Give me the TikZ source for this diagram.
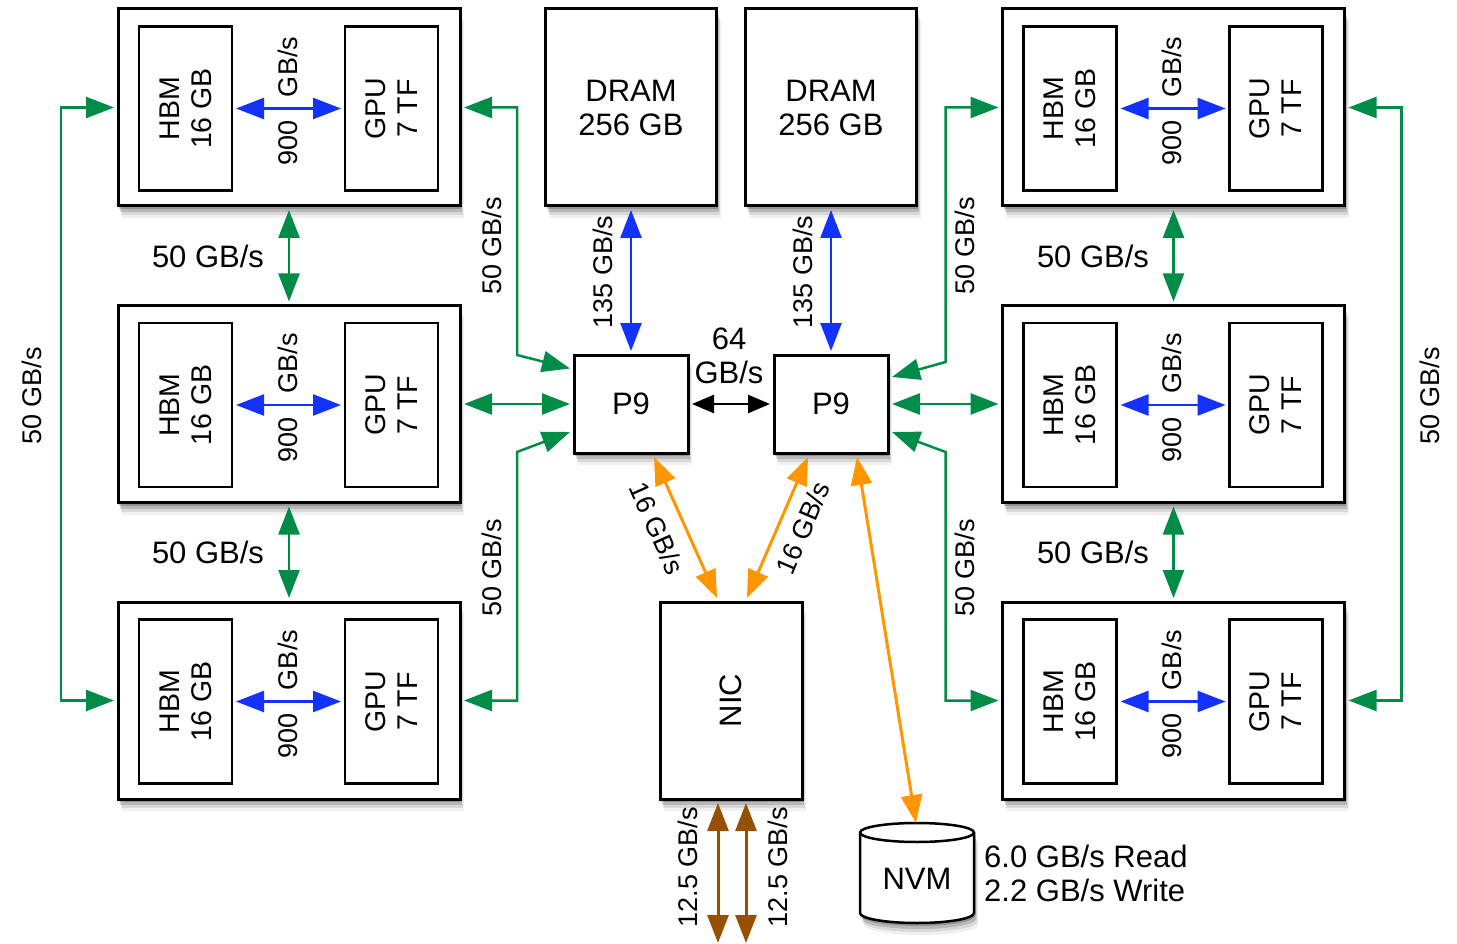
\documentclass[tikz,border=0pt]{standalone}
\usepackage{fontspec}
\setmainfont{Liberation Sans}
\usetikzlibrary{arrows.meta,shadows,calc}

\definecolor{linkgreen}{RGB}{0,140,70}
\definecolor{linkblue}{RGB}{20,50,255}
\definecolor{linkorange}{RGB}{255,150,0}
\definecolor{linkbrown}{RGB}{150,80,0}

\tikzset{
  boxshadow/.style={
    drop shadow={shadow xshift=1pt,shadow yshift=-3pt,opacity=.20,fill=black},
    drop shadow={shadow xshift=2pt,shadow yshift=-6pt,opacity=.15,fill=black},
    drop shadow={shadow xshift=3pt,shadow yshift=-9pt,opacity=.10,fill=black},
    drop shadow={shadow xshift=4pt,shadow yshift=-12pt,opacity=.06,fill=black}},
  outerbox/.style={draw,line width=3pt,fill=white,outer sep=4pt,boxshadow,align=center},
  gpubox/.style={outerbox,minimum width=342pt,minimum height=197pt},
  drambox/.style={outerbox,minimum width=171pt,minimum height=197pt},
  cpubox/.style={outerbox,minimum width=114pt,minimum height=98pt},
  innerbox/.style={draw,line width=2.5pt,fill=white,outer sep=4pt,rotate=90,
    align=center,minimum width=164pt,minimum height=93pt,
    font=\fontsize{28.5}{32}\selectfont},
  vlabel/.style={rotate=90,font=\fontsize{27}{30}\selectfont},
  link/.style={line width=2.5pt,>={Triangle[length=28pt,width=21pt]},<->},
  greenlink/.style={link,linkgreen},
  bluelink/.style={link,linkblue},
  orangelink/.style={link,linkorange,line width=3pt},
  brownlink/.style={link,linkbrown,line width=3pt},
  blacklink/.style={line width=2.5pt,>={Triangle[length=22pt,width=18pt]},<->}
}

\begin{document}
\begin{tikzpicture}[x=1pt,y=-1pt,inner sep=0pt,font=\fontsize{31}{34}\selectfont]
  \useasboundingbox (0,0) rectangle (1457,944);

  % GPU boards, left and right
  \foreach \n/\y in {1/107.5,2/404,3/700.5}{
    \node[gpubox] (L\n) at (289,\y) {};
    \node[innerbox] (L\n hbm) at (185.5,\y+1) {HBM\\16 GB};
    \node[innerbox] (L\n gpu) at (391.5,\y+1) {GPU\\7 TF};
    \draw[bluelink] (L\n hbm) -- (L\n gpu);
    \node[vlabel] (L\n up) at (288,\y-40.5) {GB/s};
    \node[vlabel] (L\n lo) at (288,\y+35.5) {900};

    \node[gpubox] (R\n) at (1173.5,\y) {};
    \node[innerbox] (R\n hbm) at (1070,\y+1) {HBM\\16 GB};
    \node[innerbox] (R\n gpu) at (1276,\y+1) {GPU\\7 TF};
    \draw[bluelink] (R\n hbm) -- (R\n gpu);
    \node[vlabel] (R\n up) at (1172,\y-40.5) {GB/s};
    \node[vlabel] (R\n lo) at (1172,\y+35.5) {900};
  }

  % memory and processors
  \node[drambox] (D1) at (631,107.5) {DRAM\\256 GB};
  \node[drambox] (D2) at (831,107.5) {DRAM\\256 GB};
  \node[cpubox] (P1) at (631,404) {P9};
  \node[cpubox] (P2) at (831,404) {P9};
  \node[outerbox,minimum width=142pt,minimum height=197pt] (NIC) at (731,700.5) {\rotatebox{90}{NIC}};

  % NVM drive
  \draw[line width=2.5pt,fill=white,boxshadow]
    (860,832.5) -- (860,913) arc[start angle=180,end angle=0,x radius=57,y radius=10]
    -- (974,832.5) arc[start angle=0,end angle=-180,x radius=57,y radius=9.5] -- cycle;
  \draw[line width=2.5pt] (860,832.5) arc[start angle=180,end angle=0,x radius=57,y radius=9.5];
  \node (NVM) at (917,879) {NVM};
  \coordinate (nvmtop) at (916,823);
  \node[anchor=west,align=left] (rates) at (984,873) {6.0 GB/s Read\\2.2 GB/s Write};

  % NVLink between boards
  \draw[greenlink] (L1) -- (L2);
  \draw[greenlink] (L2) -- (L3);
  \draw[greenlink] (R1) -- (R2);
  \draw[greenlink] (R2) -- (R3);
  \draw[greenlink] (L1.west) -- ++(-53,0) |- (L3.west);
  \draw[greenlink] (R1.east) -- ++(53,0) |- (R3.east);
  \node (g1) at (208,256) {50 GB/s};
  \node (g2) at (208,552) {50 GB/s};
  \node (g3) at (1093,256) {50 GB/s};
  \node (g4) at (1093,552) {50 GB/s};
  \node[vlabel] (g5) at (32,396) {50 GB/s};
  \node[vlabel] (g6) at (1430,396) {50 GB/s};

  % NVLink to the P9s
  \draw[greenlink] (L1.east) -- ++(53,0) -- ++(0,247.5) -- ($(P1.west)+(0,-35.5)$);
  \draw[greenlink] (L2.east) -- (P1.west);
  \draw[greenlink] (L3.east) -- ++(53,0) -- ++(0,-248.5) -- ($(P1.west)+(0,28)$);
  \draw[greenlink] (R1.west) -- ++(-53,0) -- ++(0,254.5) -- ($(P2.east)+(0,-27)$);
  \draw[greenlink] (R2.west) -- (P2.east);
  \draw[greenlink] (R3.west) -- ++(-53,0) -- ++(0,-248.5) -- ($(P2.east)+(0,28)$);
  \node[vlabel] (g7) at (492,246) {50 GB/s};
  \node[vlabel] (g8) at (492,568) {50 GB/s};
  \node[vlabel] (g9) at (965,246) {50 GB/s};
  \node[vlabel] (g10) at (965,568) {50 GB/s};

  % DRAM and X-bus
  \draw[bluelink] (D1) -- (P1);
  \draw[bluelink] (D2) -- (P2);
  \node[vlabel] (b1) at (603,272) {135 GB/s};
  \node[vlabel] (b2) at (803,272) {135 GB/s};
  \draw[blacklink] (P1.east) -- (P2.west);
  \node[align=center] (xbus) at (729,356) {64\\GB/s};

  % PCIe
  \draw[orangelink] ($(P1.south)+(23,0)$) -- ($(NIC.north)+(-14,0)$);
  \draw[orangelink] ($(P2.south)+(-23,0)$) -- ($(NIC.north)+(16,0)$);
  \draw[orangelink] ($(P2.south)+(26,0)$) -- (nvmtop);
  \node[rotate=-66,font=\fontsize{27}{30}\selectfont] (o1) at (657,528) {16 GB/s};
  \node[rotate=67,font=\fontsize{27}{30}\selectfont] (o2) at (803,528) {16 GB/s};

  % network ports
  \coordinate (e1) at (718,943);
  \coordinate (e2) at (746,943);
  \draw[brownlink] ($(NIC.south)+(-13,0)$) -- (e1);
  \draw[brownlink] ($(NIC.south)+(15,0)$) -- (e2);
  \node[vlabel] (n1) at (688,867) {12.5 GB/s};
  \node[vlabel] (n2) at (778,867) {12.5 GB/s};
\end{tikzpicture}
\end{document}
